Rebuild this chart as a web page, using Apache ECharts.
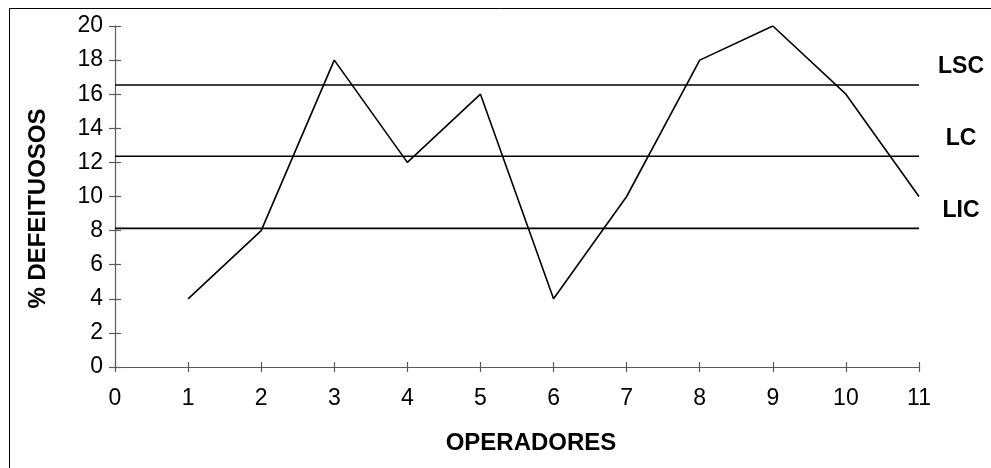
<!DOCTYPE html>
<html>
<head>
<meta charset="utf-8">
<script src="https://cdn.jsdelivr.net/npm/echarts@6/dist/echarts.min.js"></script>
<style>
html,body{margin:0;padding:0;background:#fff;}
#chart{width:991px;height:468px;}
</style>
</head>
<body>
<div id="chart"></div>
<script>
// Data
const operadores = [1, 2, 3, 4, 5, 6, 7, 8, 9, 10, 11];
const defeituosos = [4, 8, 18, 12, 16, 4, 10, 18, 20, 16, 10];
const limitNames = ['LSC', 'LC', 'LIC'];
const limitValues = [16.54, 12.36, 8.13];
const xRange = [0, 11];
const yTicks = [0, 2, 4, 6, 8, 10, 12, 14, 16, 18, 20];

const font = 'Arial, "Liberation Sans", sans-serif';
const chart = echarts.init(document.getElementById('chart'), null, {renderer: 'canvas'});

const mainData = operadores.map((x, i) => [x, defeituosos[i]]);

const limitSeries = limitNames.map((name, i) => ({
  name: name,
  type: 'line',
  xAxisIndex: 0,
  yAxisIndex: 0,
  data: [[xRange[0], limitValues[i]], [xRange[1], limitValues[i]]],
  symbol: 'none',
  silent: true,
  lineStyle: {color: '#000', width: 1.6},
  endLabel: {
    show: true,
    formatter: name,
    color: '#000',
    fontFamily: font,
    fontWeight: 'bold',
    fontSize: 23,
    align: 'center',
    verticalAlign: 'middle',
    offset: [34, -18]
  }
}));

const axisCommon = {
  type: 'value',
  axisLine: {show: true, lineStyle: {color: '#5a5a5a', width: 1.2}},
  splitLine: {show: false},
};

const option = {
  animation: false,
  backgroundColor: '#fff',
  grid: {left: 115, right: 72, top: 26, bottom: 101, containLabel: false},
  xAxis: [
    Object.assign({}, axisCommon, {
      min: xRange[0], max: xRange[1], interval: 1,
      axisTick: {show: true, inside: false, length: 5, lineStyle: {color: '#5a5a5a', width: 1.2}},
      axisLabel: {color: '#000', fontFamily: font, fontSize: 23, margin: 20},
      name: 'OPERADORES',
      nameLocation: 'middle',
      nameGap: 64,
      nameTextStyle: {color: '#000', fontFamily: font, fontWeight: 'bold', fontSize: 24, padding: [0, 0, 0, 28]}
    }),
    Object.assign({}, axisCommon, {
      min: xRange[0], max: xRange[1], interval: 1,
      position: 'bottom',
      axisLine: {show: false},
      axisTick: {show: true, inside: true, length: 5, lineStyle: {color: '#5a5a5a', width: 1.2}},
      axisLabel: {show: false}
    })
  ],
  yAxis: [
    Object.assign({}, axisCommon, {
      min: yTicks[0], max: yTicks[yTicks.length - 1], interval: 2,
      axisTick: {show: true, inside: false, length: 6, lineStyle: {color: '#5a5a5a', width: 1.2}},
      axisLabel: {color: '#000', fontFamily: font, fontSize: 23, margin: 12},
      name: '% DEFEITUOSOS',
      nameLocation: 'middle',
      nameGap: 65,
      nameRotate: 90,
      nameTextStyle: {color: '#000', fontFamily: font, fontWeight: 'bold', fontSize: 24, padding: [0, 24, 0, 0]}
    }),
    Object.assign({}, axisCommon, {
      min: yTicks[0], max: yTicks[yTicks.length - 1], interval: 2,
      position: 'left',
      axisLine: {show: false},
      axisTick: {show: true, inside: true, length: 6, lineStyle: {color: '#5a5a5a', width: 1.2}},
      axisLabel: {show: false}
    })
  ],
  graphic: [{
    type: 'rect',
    shape: {x: 9.5, y: 8.5, width: 1000, height: 500},
    style: {fill: 'none', stroke: '#000', lineWidth: 1},
    silent: true,
    z: 100
  }],
  series: [
    {
      name: '% defeituosos',
      type: 'line',
      xAxisIndex: 0,
      yAxisIndex: 0,
      data: mainData,
      symbol: 'none',
      lineStyle: {color: '#000', width: 1.6},
      z: 5
    }
  ].concat(limitSeries)
};

chart.setOption(option);
</script>
</body>
</html>
